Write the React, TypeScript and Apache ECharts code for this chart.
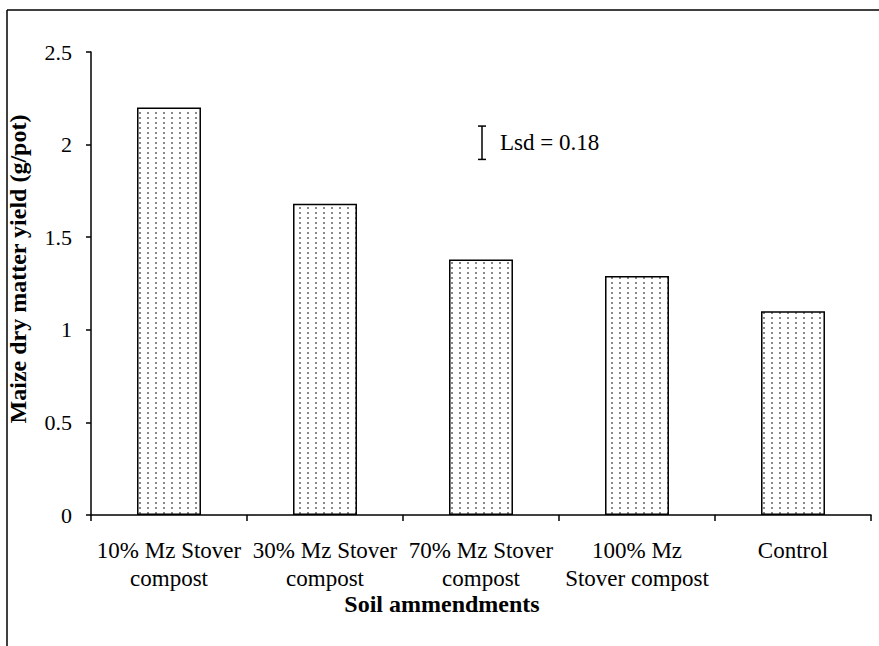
import React, { useEffect, useRef } from "react";
import * as echarts from "echarts";

const categories = [
  "10% Mz Stover\ncompost",
  "30% Mz Stover\ncompost",
  "70% Mz Stover\ncompost",
  "100% Mz\nStover compost",
  "Control",
];
const yieldValues = [2.2, 1.68, 1.38, 1.29, 1.1];
const lsdValue = 0.18;
const lsdCategoryIndex = 2;
const lsdLow = 1.92;
const lsdLabel = "Lsd = 0.18";
const yTicks = [0, 0.5, 1, 1.5, 2, 2.5];

const FONT = "'Liberation Serif', 'Times New Roman', serif";

function makeDots(): HTMLCanvasElement {
  const c = document.createElement("canvas");
  c.width = 8;
  c.height = 5;
  const ctx = c.getContext("2d")!;
  ctx.fillStyle = "#ffffff";
  ctx.fillRect(0, 0, 8, 5);
  ctx.fillStyle = "#8a8a8a";
  ctx.fillRect(3, 2, 2, 2);
  return c;
}

export default function App() {
  const ref = useRef<HTMLDivElement>(null);
  useEffect(() => {
    if (!ref.current) return;
    const chart = echarts.init(ref.current, null, { renderer: "svg" });
    const dots = makeDots();
    chart.setOption({
      animation: false,
      backgroundColor: "#ffffff",
      grid: { left: 91, right: 8, top: 52, bottom: 131, containLabel: false },
      xAxis: {
        type: "category",
        data: categories,
        axisLine: { lineStyle: { color: "#000", width: 1.5 } },
        axisTick: { show: true, length: 6, lineStyle: { color: "#000", width: 1.5 } },
        axisLabel: {
          interval: 0,
          margin: 21,
          color: "#000",
          fontFamily: FONT,
          fontSize: 23,
          lineHeight: 28,
        },
      },
      yAxis: {
        type: "value",
        min: yTicks[0],
        max: yTicks[yTicks.length - 1],
        interval: 0.5,
        splitLine: { show: false },
        axisLine: { show: true, lineStyle: { color: "#000", width: 1.5 } },
        axisTick: { show: true, length: 5, lineStyle: { color: "#000", width: 1.5 } },
        axisLabel: {
          margin: 19,
          color: "#000",
          fontFamily: FONT,
          fontSize: 22,
          formatter: (v: number) => String(v),
        },
      },
      series: [
        {
          type: "bar",
          data: yieldValues,
          barWidth: "41%",
          itemStyle: {
            color: { image: dots, repeat: "repeat" } as any,
            borderColor: "#000",
            borderWidth: 1.5,
          },
        },
        {
          type: "custom",
          data: [[lsdCategoryIndex, lsdLow, lsdLow + lsdValue]],
          renderItem: (params: any, api: any) => {
            const top = api.coord([api.value(0), api.value(2)]);
            const bot = api.coord([api.value(0), api.value(1)]);
            const x = top[0] + 1;
            const cap = 4;
            const ls = { stroke: "#000", lineWidth: 1.5 };
            return {
              type: "group",
              children: [
                { type: "line", shape: { x1: x, y1: top[1], x2: x, y2: bot[1] }, style: ls },
                { type: "line", shape: { x1: x - cap, y1: top[1], x2: x + cap, y2: top[1] }, style: ls },
                { type: "line", shape: { x1: x - cap, y1: bot[1], x2: x + cap, y2: bot[1] }, style: ls },
                {
                  type: "text",
                  x: x + 18,
                  y: (top[1] + bot[1]) / 2,
                  style: {
                    text: lsdLabel,
                    fill: "#000",
                    font: `23px ${FONT}`,
                    textAlign: "left",
                    textVerticalAlign: "middle",
                  },
                },
              ],
            };
          },
        },
      ],
      graphic: [
        { type: "line", shape: { x1: 7, y1: 10, x2: 879, y2: 10 }, style: { stroke: "#000", lineWidth: 1.5 } },
        { type: "line", shape: { x1: 7, y1: 10, x2: 7, y2: 646 }, style: { stroke: "#000", lineWidth: 1.5 } },
        {
          type: "text",
          x: 18,
          y: 269,
          rotation: Math.PI / 2,
          style: {
            text: "Maize dry matter yield (g/pot)",
            fill: "#000",
            font: `bold 24px ${FONT}`,
            textAlign: "center",
            textVerticalAlign: "middle",
          },
        },
        {
          type: "text",
          x: 442,
          y: 604,
          style: {
            text: "Soil ammendments",
            fill: "#000",
            font: `bold 24px ${FONT}`,
            textAlign: "center",
            textVerticalAlign: "middle",
          },
        },
      ],
    });
    return () => chart.dispose();
  }, []);
  return (
    <div
      ref={ref}
      style={{ position: "fixed", left: 0, top: 0, width: 879, height: 646 }}
    />
  );
}
